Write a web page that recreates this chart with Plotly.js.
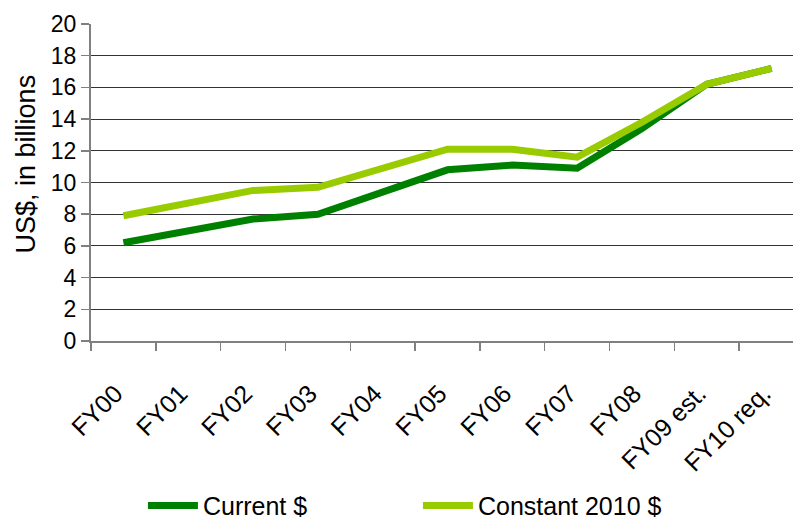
<!DOCTYPE html>
<html>
<head>
<meta charset="utf-8">
<script src="https://cdn.plot.ly/plotly-3.0.1.min.js"></script>
<style>html,body{margin:0;padding:0;background:#fff;}#chart{width:793px;height:519px;}</style>
</head>
<body>
<div id="chart"></div>
<script>
var categories = ["FY00","FY01","FY02","FY03","FY04","FY05","FY06","FY07","FY08","FY09 est.","FY10 req."];
var currentDollars = [6.2, 7.0, 7.7, 8.0, 9.4, 10.8, 11.1, 10.9, 13.4, 16.2, 17.2];
var constant2010 = [7.9, 8.7, 9.5, 9.7, 10.9, 12.1, 12.1, 11.6, 13.8, 16.2, 17.2];
var yTicks = [0,2,4,6,8,10,12,14,16,18,20];
var yTitle = "US$, in billions";

var font = "Liberation Sans, Arial, sans-serif";
var traces = [
  {x: categories, y: currentDollars, name: "Current $", type: "scatter", mode: "lines",
   line: {color: "#008000", width: 7}},
  {x: categories, y: constant2010, name: "Constant 2010 $", type: "scatter", mode: "lines",
   line: {color: "#99CC00", width: 7}}
];
var layout = {
  width: 793, height: 519,
  margin: {l: 91, r: 0, t: 24, b: 178, autoexpand: false},
  paper_bgcolor: "#fff", plot_bgcolor: "#fff",
  font: {family: font, size: 23, color: "#000"},
  showlegend: true,
  legend: {orientation: "h", x: 0.074, y: -0.52, xanchor: "left", yanchor: "middle",
           itemwidth: 50, entrywidth: 210, font: {family: font, size: 25, color: "#000"}},
  xaxis: {
    type: "category", range: [-0.5, 10.33], automargin: false,
    tickson: "boundaries", ticks: "outside", ticklen: 8, tickcolor: "#808080", tickwidth: 1.5,
    showline: true, linecolor: "#808080", linewidth: 2,
    showgrid: false, tickangle: -45, tickfont: {family: font, size: 25, color: "#000"},
    ticklabelstandoff: 26, ticklabelshift: -8,
    fixedrange: true
  },
  yaxis: {
    range: [0, 20], tickvals: yTicks, ticks: "outside", ticklen: 8, tickcolor: "#808080", tickwidth: 1.5,
    showline: true, linecolor: "#808080", linewidth: 2, automargin: false,
    showgrid: true, gridcolor: "#333333", gridwidth: 1, zeroline: false,
    tickfont: {family: font, size: 23, color: "#000"},
    fixedrange: true
  },
  annotations: [{
    text: yTitle, xref: "paper", yref: "paper", x: -0.0912, y: 0.56,
    xanchor: "center", yanchor: "middle", textangle: -90, showarrow: false,
    font: {family: font, size: 27, color: "#000"}
  }]
};
Plotly.newPlot("chart", traces, layout, {displayModeBar: false, staticPlot: true});
</script>
</body>
</html>
